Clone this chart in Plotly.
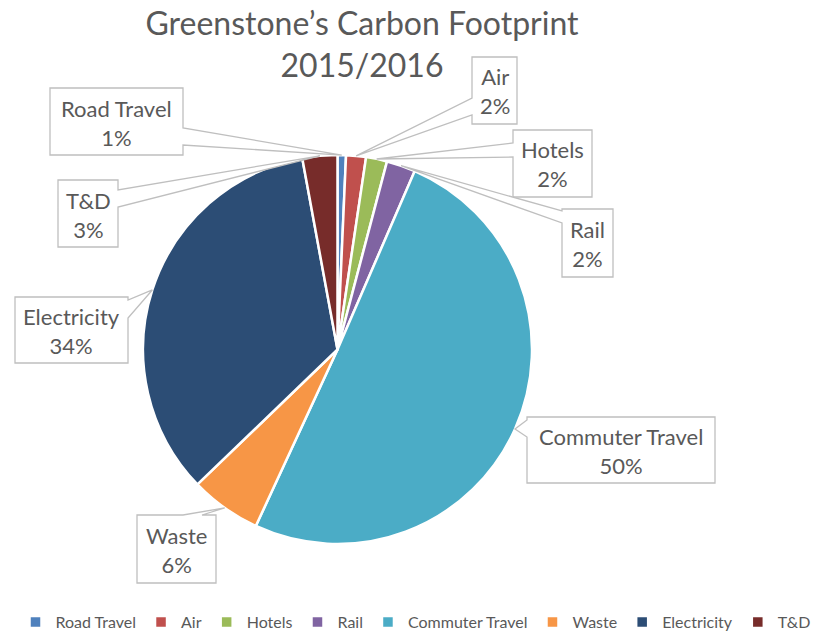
import math
import plotly.graph_objects as go

# ---- data ----
categories = ["Road Travel", "Air", "Hotels", "Rail", "Commuter Travel", "Waste", "Electricity", "T&D"]
values = [0.7, 1.65, 1.75, 2.4, 50.4, 5.9, 34.3, 2.9]
colors = ["#4F81BD", "#C0504D", "#9BBB59", "#8064A2", "#4BACC6", "#F79646", "#2C4D75", "#772C2A"]
title_lines = ["Greenstone\u2019s Carbon Footprint", "2015/2016"]

# ---- layout (screen pixels; the page body adds an 8px margin) ----
OFF = 8
W, H = 823 - OFF, 633 - OFF
CX, CY, R = 337.5, 349.5, 194.5
TEXT = "#595959"
FONT = "Lato"

# callout boxes: (x0, y0, x1, y1), wedge edge, wedge base start/end along edge
callouts = {
    "Road Travel": ((50, 88, 183, 155), "right", 128, 145),
    "Air": ((472, 57, 517, 124), "left", 98, 115),
    "Hotels": ((513, 130, 592, 197), "left", 143, 157),
    "Rail": ((562, 209, 613, 277), "left", 211, 223),
    "Commuter Travel": ((527, 417, 715, 483), "left", 420, 437),
    "Waste": ((137, 515, 216, 583), "top", 183, 202),
    "Electricity": ((15, 297, 128, 363), "right", 300, 318),
    "T&D": ((58, 180, 118, 247), "right", 190, 207),
}


def px(x, y):
    return (x - OFF) / W, 1 - (y - OFF) / H


def callout_path(box, edge, b1, b2, tip):
    x0, y0, x1, y1 = box
    pts = [(x0, y0)]
    if edge == "top":
        pts += [(b1, y0), tip, (b2, y0)]
    pts.append((x1, y0))
    if edge == "right":
        pts += [(x1, b1), tip, (x1, b2)]
    pts.append((x1, y1))
    if edge == "bottom":
        pts += [(b2, y1), tip, (b1, y1)]
    pts.append((x0, y1))
    if edge == "left":
        pts += [(x0, b2), tip, (x0, b1)]
    out = []
    for i, (x, y) in enumerate(pts):
        u, v = px(x, y)
        out.append(("M" if i == 0 else "L") + f"{u:.5f},{v:.5f}")
    return " ".join(out) + " Z"


total = sum(values)
shapes = []
annotations = []
cum = 0.0
for name, val in zip(categories, values):
    mid = (cum + val / 2) / total * 2 * math.pi
    cum += val
    tip = (CX + R * math.sin(mid), CY - R * math.cos(mid))
    box, edge, b1, b2 = callouts[name]
    shapes.append(dict(type="path", xref="paper", yref="paper",
                       path=callout_path(box, edge, b1, b2, tip),
                       fillcolor="white", line=dict(color="#BFBFBF", width=1.3),
                       layer="above"))
    cx, cy = px((box[0] + box[2]) / 2, (box[1] + box[3]) / 2 + 1)
    pct = round(val / total * 100)
    annotations.append(dict(x=cx, y=cy, xref="paper", yref="paper",
                            text=f"{name}<br>{pct}%", showarrow=False,
                            xanchor="center", yanchor="middle",
                            font=dict(family=FONT, size=22, color=TEXT)))

x0d, y1d = px(CX - R, CY - R)
x1d, y0d = px(CX + R, CY + R)

fig = go.Figure(go.Pie(
    labels=categories, values=values, sort=False, direction="clockwise",
    rotation=0, textinfo="none", textposition="inside",
    marker=dict(colors=colors, line=dict(color="white", width=2.5)),
    domain=dict(x=[x0d, x1d], y=[y0d, y1d]),
    hoverinfo="label+percent",
))

tx, ty = px(362, 27 + OFF)
fig.update_layout(
    width=W, height=H,
    margin=dict(l=0, r=0, t=0, b=0, autoexpand=False),
    paper_bgcolor="white", plot_bgcolor="white",
    title=dict(text="<br>".join(title_lines), x=tx, xanchor="center",
               y=ty, yanchor="top", yref="container",
               font=dict(family=FONT, size=32, color=TEXT)),
    showlegend=True,
    legend=dict(orientation="h", x=0.5, xanchor="center", y=-6 / H, yanchor="bottom",
                font=dict(family=FONT, size=16, color=TEXT), itemwidth=30,
                traceorder="normal"),
    shapes=shapes,
    annotations=annotations,
)

fig.write_html("out.html")
